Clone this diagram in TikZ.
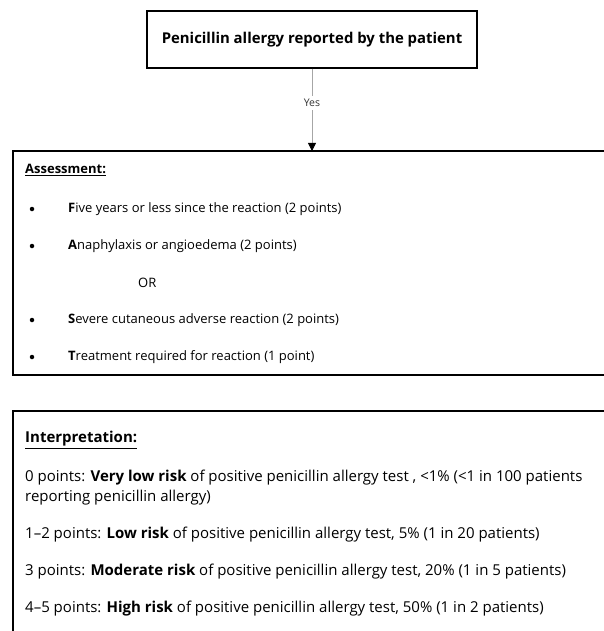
\documentclass[tikz,border=0pt]{standalone}
\usepackage{fontspec}
\setmainfont{Open Sans}
\usetikzlibrary{positioning,arrows.meta}
\newcommand{\textsize}{\fontsize{13}{20}\selectfont}
\newcommand{\interpsize}{\fontsize{15}{20}\selectfont}
\newcommand{\bulletx}{32}
\newcommand{\itemx}{68}
\tikzset{
    frame/.style={draw, line width=1.2pt, rectangle, inner sep=0pt},
    entry/.style={anchor=west, inner sep=0pt, font=\textsize, align=left},
    interp/.style={entry, font=\interpsize},
    bulletmark/.style={circle, fill, inner sep=0pt, minimum size=4.5pt},
}

\begin{document}
\begin{tikzpicture}[x=1pt, y=-1pt]
    \clip (0,0) rectangle (604,631);
    \useasboundingbox (0,0) rectangle (604,631);

    % top box
    \node[frame, minimum width=330pt, minimum height=57pt, font=\fontsize{14.9}{16}\selectfont] (patient) at (312,39.5)
        {\textbf{Penicillin allergy reported by the patient}};

    % assessment box
    \draw[line width=1.2pt] (640,151) -- (13,151) -- (13,375) -- (640,375);
    \coordinate (assess) at (312,151);
    \node[entry] (ahead) at (25,170) {\underline{\textbf{Assessment:}}};
    \node[bulletmark] (b1) at (\bulletx,209) {};
    \node[entry] (a1) at (\itemx,209) {\textbf{F}ive years or less since the reaction (2 points)};
    \node[bulletmark] (b2) at (\bulletx,246) {};
    \node[entry] (a2) at (\itemx,246) {\textbf{A}naphylaxis or angioedema (2 points)};
    \node[entry] (aor) at (138,283) {OR};
    \node[bulletmark] (b3) at (\bulletx,320) {};
    \node[entry] (a3) at (\itemx,320) {\textbf{S}evere cutaneous adverse reaction (2 points)};
    \node[bulletmark] (b4) at (\bulletx,357) {};
    \node[entry] (a4) at (\itemx,357) {\textbf{T}reatment required for reaction (1 point)};

    % interpretation box
    \draw[line width=1.2pt] (640,411) -- (13,411) -- (13,660);
    \node[interp] (ihead) at (25,440) {\underline{\textbf{Interpretation:}}};
    \node[interp] (i1) at (25,488) {0 points: \textbf{Very low risk} of positive penicillin allergy test , <1\% (<1 in 100 patients\\reporting penicillin allergy)};
    \node[interp] (i2) at (25,535) {1--2 points: \textbf{Low risk} of positive penicillin allergy test, 5\% (1 in 20 patients)};
    \node[interp] (i3) at (25,572) {3 points: \textbf{Moderate risk} of positive penicillin allergy test, 20\% (1 in 5 patients)};
    \node[interp] (i4) at (25,609) {4--5 points: \textbf{High risk} of positive penicillin allergy test, 50\% (1 in 2 patients)};

    % connector
    \draw[gray!70, line width=0.8pt, -{Triangle[black, length=8pt, width=8pt]}] (patient) -- node[pos=0.42, fill=white, font=\fontsize{10.5}{12}\selectfont, text=black!80] {Yes} (assess);
\end{tikzpicture}
\end{document}
